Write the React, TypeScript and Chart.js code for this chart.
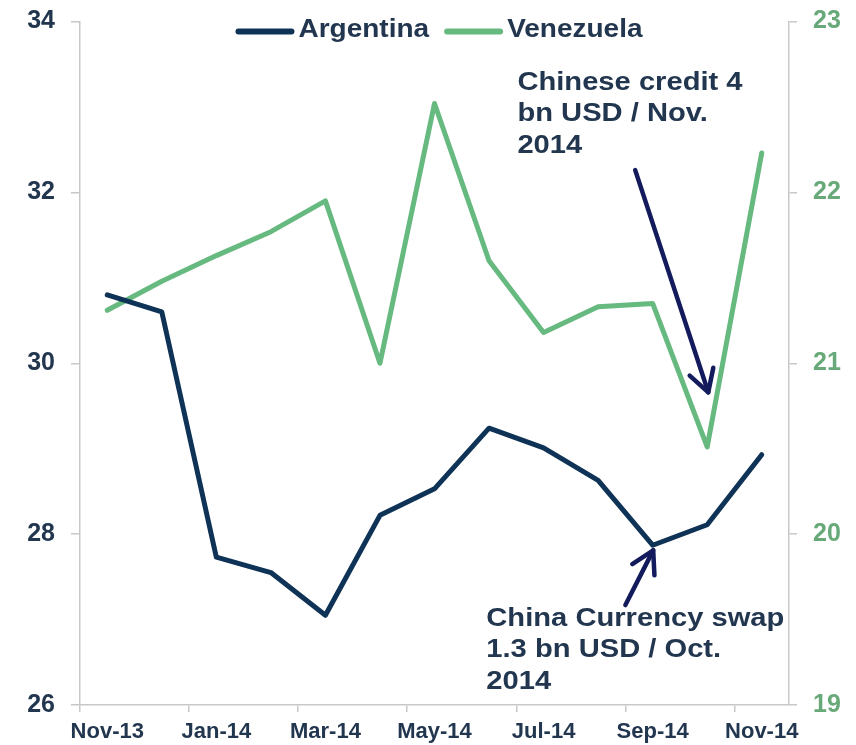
import React, { useEffect, useRef } from 'react';
import { Chart, registerables } from 'chart.js';

Chart.register(...registerables);

// ---- data ----
const categories = ['Nov-13', 'Dec-13', 'Jan-14', 'Feb-14', 'Mar-14', 'Apr-14', 'May-14', 'Jun-14', 'Jul-14', 'Aug-14', 'Sep-14', 'Oct-14', 'Nov-14'];
const seriesNames = ['Argentina', 'Venezuela'];
const argentina = [30.8, 30.6, 27.73, 27.55, 27.05, 28.22, 28.53, 29.24, 29.01, 28.63, 27.87, 28.11, 28.93];
const venezuela = [21.31, 21.48, 21.63, 21.77, 21.95, 21.0, 22.52, 21.6, 21.18, 21.33, 21.35, 20.51, 22.23];
const leftTicks = [26, 28, 30, 32, 34];
const rightTicks = [19, 20, 21, 22, 23];
const noteCredit = ['Chinese credit 4', 'bn USD / Nov.', '2014'];
const noteSwap = ['China Currency swap', '1.3 bn USD / Oct.', '2014'];

// ---- styles ----
const NAVY = '#0f3356';
const GREEN = '#66b97f';
const GREEN_TEXT = '#68a97a';
const TEXT = '#22374f';
const ARROW = '#141b5c';
const AXIS = '#c8c8c8';
const FONT = '"Liberation Sans", Arial, Helvetica, sans-serif';

// annotation anchors in data units (x = category index, y on the named axis)
const notes = [
  { lines: noteCredit, axis: 'y1', textX: 7.52, textY: 22.6, from: [9.68, 22.13], to: [11.02, 20.83] },
  { lines: noteSwap, axis: 'y', textX: 6.95, textY: 26.925, from: [9.5, 27.17], to: [10.01, 27.81] },
];

function stretchedText(ctx: CanvasRenderingContext2D, text: string, x: number, y: number, sx: number) {
  ctx.save();
  ctx.translate(x, y);
  ctx.scale(sx, 1);
  ctx.fillText(text, 0, 0);
  ctx.restore();
}

const overlayPlugin = {
  id: 'overlay',
  afterDraw(chart: any) {
    const { ctx, chartArea, scales } = chart;
    ctx.save();

    // legend
    const sxL = 1.12;
    ctx.font = `bold 25px ${FONT}`;
    ctx.textBaseline = 'alphabetic';
    const lineLen = 59;
    const gap = 4;
    const itemGap = 15;
    const items = chart.data.datasets.map((ds: any) => ({
      label: ds.label,
      color: ds.borderColor,
      w: ctx.measureText(ds.label).width * sxL,
    }));
    const total = items.reduce((s: number, it: any) => s + lineLen + gap + it.w, 0) + itemGap * (items.length - 1);
    let lx = (chartArea.left + chartArea.right) / 2 + 4.5 - total / 2;
    const ly = chartArea.top + 10;
    for (const it of items) {
      ctx.strokeStyle = it.color;
      ctx.lineWidth = 6;
      ctx.lineCap = 'round';
      ctx.beginPath();
      ctx.moveTo(lx + 3, ly);
      ctx.lineTo(lx + lineLen - 3, ly);
      ctx.stroke();
      ctx.fillStyle = TEXT;
      stretchedText(ctx, it.label, lx + lineLen + gap, ly + 5.5, sxL);
      lx += lineLen + gap + it.w + itemGap;
    }

    // annotations
    const x = scales.x;
    for (const n of notes) {
      const y = scales[n.axis];
      const x0 = x.getPixelForValue(n.from[0]);
      const y0 = y.getPixelForValue(n.from[1]);
      const x1 = x.getPixelForValue(n.to[0]);
      const y1 = y.getPixelForValue(n.to[1]);
      ctx.strokeStyle = ARROW;
      ctx.lineWidth = 4.5;
      ctx.lineCap = 'round';
      ctx.lineJoin = 'round';
      ctx.beginPath();
      ctx.moveTo(x0, y0);
      ctx.lineTo(x1, y1);
      ctx.stroke();
      const ang = Math.atan2(y0 - y1, x0 - x1);
      const head = 25;
      const spread = 0.52;
      ctx.beginPath();
      ctx.moveTo(x1 + head * Math.cos(ang - spread), y1 + head * Math.sin(ang - spread));
      ctx.lineTo(x1, y1);
      ctx.lineTo(x1 + head * Math.cos(ang + spread), y1 + head * Math.sin(ang + spread));
      ctx.stroke();

      ctx.fillStyle = TEXT;
      ctx.font = `bold 26.5px ${FONT}`;
      const tx = x.getPixelForValue(n.textX);
      const ty = y.getPixelForValue(n.textY);
      n.lines.forEach((line: string, i: number) => {
        stretchedText(ctx, line, tx, ty + i * 31.5, 1.1);
      });
    }
    ctx.restore();
  },
};

export default function App() {
  const canvasRef = useRef<HTMLCanvasElement | null>(null);

  useEffect(() => {
    const canvas = canvasRef.current;
    if (!canvas) return;
    const chart = new Chart(canvas, {
      type: 'line',
      data: {
        labels: categories,
        datasets: [
          {
            label: seriesNames[0],
            data: argentina,
            yAxisID: 'y',
            borderColor: NAVY,
            backgroundColor: NAVY,
            borderWidth: 5,
            pointRadius: 0,
            pointHoverRadius: 0,
            tension: 0,
            borderJoinStyle: 'round',
            borderCapStyle: 'round',
          },
          {
            label: seriesNames[1],
            data: venezuela,
            yAxisID: 'y1',
            borderColor: GREEN,
            backgroundColor: GREEN,
            borderWidth: 5,
            pointRadius: 0,
            pointHoverRadius: 0,
            tension: 0,
            borderJoinStyle: 'round',
            borderCapStyle: 'round',
          },
        ],
      },
      options: {
        responsive: false,
        animation: false,
        events: [],
        layout: { padding: { top: 21.5, left: 0, right: 0, bottom: 0 } },
        plugins: {
          legend: { display: false },
          tooltip: { enabled: false },
          title: { display: false },
        },
        scales: {
          x: {
            type: 'category',
            offset: true,
            grid: {
              offset: true,
              drawOnChartArea: false,
              drawTicks: true,
              tickLength: 7,
              lineWidth: 1.5,
              color: (c: any) => (c.index % 2 === 0 ? AXIS : 'rgba(0,0,0,0)'),
            },
            border: { display: true, color: AXIS, width: 1.5 },
            ticks: {
              autoSkip: false,
              maxRotation: 0,
              minRotation: 0,
              padding: 7,
              color: TEXT,
              font: { family: FONT, size: 22, weight: 'bold' },
              callback: (_v: any, i: number) => (i % 2 === 0 ? categories[i] : ''),
            },
            afterFit: (s: any) => {
              s.height = 40;
              s.paddingLeft = 0;
              s.paddingRight = 0;
            },
          },
          y: {
            type: 'linear',
            position: 'left',
            min: leftTicks[0],
            max: leftTicks[leftTicks.length - 1],
            afterBuildTicks: (s: any) => {
              s.ticks = leftTicks.map((v) => ({ value: v }));
            },
            grid: { drawOnChartArea: false, drawTicks: true, tickLength: 9, color: AXIS, lineWidth: 1.5 },
            border: { display: true, color: AXIS, width: 1.5 },
            ticks: {
              padding: 16,
              color: TEXT,
              font: { family: FONT, size: 25, weight: 'bold' },
            },
            afterFit: (s: any) => {
              s.width = 80;
              s.paddingTop = 0;
              s.paddingBottom = 0;
            },
          },
          y1: {
            type: 'linear',
            position: 'right',
            min: rightTicks[0],
            max: rightTicks[rightTicks.length - 1],
            afterBuildTicks: (s: any) => {
              s.ticks = rightTicks.map((v) => ({ value: v }));
            },
            grid: { drawOnChartArea: false, drawTicks: true, tickLength: 8, color: AXIS, lineWidth: 1.5 },
            border: { display: true, color: AXIS, width: 1.5 },
            ticks: {
              padding: 16,
              color: GREEN_TEXT,
              font: { family: FONT, size: 25, weight: 'bold' },
            },
            afterFit: (s: any) => {
              s.width = 67;
              s.paddingTop = 0;
              s.paddingBottom = 0;
            },
          },
        },
      },
      plugins: [overlayPlugin],
    } as any);
    return () => chart.destroy();
  }, []);

  return (
    <div style={{ position: 'absolute', left: 0, top: 0, width: 856, height: 745, background: '#fff' }}>
      <canvas ref={canvasRef} width={856} height={745} style={{ display: 'block' }} />
    </div>
  );
}
